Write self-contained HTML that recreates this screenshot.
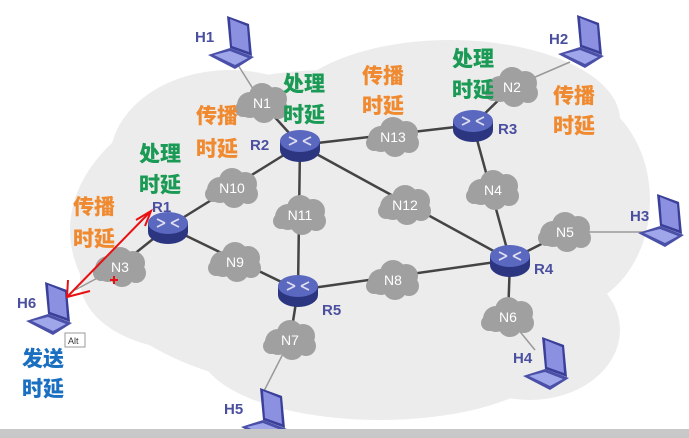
<!DOCTYPE html>
<html><head><meta charset="utf-8"><style>
html,body{margin:0;padding:0;background:#fff;}
svg{display:block;}
.lab{font-family:"Liberation Sans","Noto Sans CJK SC",sans-serif;font-weight:900;font-size:21px;}
.n{font-family:"Liberation Sans",sans-serif;font-size:14px;fill:#fff;text-anchor:middle;}
.r{font-family:"Liberation Sans",sans-serif;font-size:15px;font-weight:bold;fill:#4a4fa0;}
</style></head><body>
<svg width="689" height="438" viewBox="0 0 689 438" xmlns="http://www.w3.org/2000/svg">
<defs>
<g id="cl" fill="#a0a0a0"><circle cx="-12" cy="2" r="13"/><circle cx="0" cy="-7" r="13"/><circle cx="13" cy="-4" r="12"/><circle cx="16" cy="6" r="10"/><circle cx="2" cy="8" r="12"/><circle cx="-19" cy="6" r="8"/></g>
<g id="rt"><ellipse cx="0" cy="5" rx="20" ry="12" fill="#2b3580"/><rect x="-20" y="-4" width="40" height="9" fill="#2b3580"/><ellipse cx="0" cy="-4" rx="20" ry="11" fill="#5a68c0"/><path d="M-11 -8 L-3 -4 M11 -8 L3 -4 M-11 0 L-3 -4 M11 0 L3 -4" stroke="#dde" stroke-width="1.8"/></g>
<g id="lp"><polygon points="0,0 22,8 25,40 3,32" fill="#3a3f99"/><polygon points="3,3 20,10 22,36 5,30" fill="#8c90e0"/><polygon points="3,32 27,41 8,53 -19,39" fill="#4a50a8"/><polygon points="3,35 21,42 8,49 -13,39" fill="#a0a6ea"/></g>
</defs>
<rect width="689" height="438" fill="#fff"/>
<g fill="#ececec">
<ellipse cx="330" cy="230" rx="260" ry="160"/>
<ellipse cx="230" cy="160" rx="120" ry="90"/>
<ellipse cx="450" cy="120" rx="170" ry="80"/>
<ellipse cx="560" cy="200" rx="90" ry="110"/>
<ellipse cx="190" cy="280" rx="110" ry="70"/>
<ellipse cx="380" cy="350" rx="180" ry="70"/>
<ellipse cx="530" cy="330" rx="90" ry="70"/>
</g>
<g stroke="#444" stroke-width="2.5" fill="none">
<line x1="168" y1="227" x2="300" y2="145"/>
<line x1="168" y1="227" x2="298" y2="290"/>
<line x1="300" y1="145" x2="298" y2="290"/>
<line x1="300" y1="145" x2="510" y2="260"/>
<line x1="300" y1="145" x2="473" y2="125"/>
<line x1="473" y1="125" x2="510" y2="260"/>
<line x1="298" y1="290" x2="510" y2="260"/>
<line x1="510" y1="260" x2="565" y2="232"/>
<line x1="510" y1="260" x2="508" y2="317"/>
<line x1="298" y1="290" x2="290" y2="340"/>
<line x1="300" y1="145" x2="262" y2="103"/>
<line x1="473" y1="125" x2="512" y2="87"/>
<line x1="168" y1="227" x2="118" y2="267"/>
</g>
<g stroke="#999" stroke-width="1.5">
<line x1="262" y1="103" x2="238" y2="65"/>
<line x1="512" y1="87" x2="570" y2="62"/>
<line x1="565" y1="232" x2="645" y2="232"/>
<line x1="508" y1="317" x2="535" y2="350"/>
<line x1="290" y1="340" x2="262" y2="395"/>
<line x1="118" y1="267" x2="75" y2="290"/>
</g>
<use href="#cl" x="262" y="103"/><text class="n" x="262" y="108">N1</text>
<use href="#cl" x="393" y="137"/><text class="n" x="393" y="142">N13</text>
<use href="#cl" x="512" y="87"/><text class="n" x="512" y="92">N2</text>
<use href="#cl" x="232" y="188"/><text class="n" x="232" y="193">N10</text>
<use href="#cl" x="300" y="215"/><text class="n" x="300" y="220">N11</text>
<use href="#cl" x="405" y="205"/><text class="n" x="405" y="210">N12</text>
<use href="#cl" x="493" y="190"/><text class="n" x="493" y="195">N4</text>
<use href="#cl" x="565" y="232"/><text class="n" x="565" y="237">N5</text>
<use href="#cl" x="120" y="267"/><text class="n" x="120" y="272">N3</text>
<use href="#cl" x="235" y="262"/><text class="n" x="235" y="267">N9</text>
<use href="#cl" x="393" y="280"/><text class="n" x="393" y="285">N8</text>
<use href="#cl" x="508" y="317"/><text class="n" x="508" y="322">N6</text>
<use href="#cl" x="290" y="340"/><text class="n" x="290" y="345">N7</text>
<use href="#rt" x="168" y="227"/><text class="r" x="152" y="212">R1</text>
<use href="#rt" x="300" y="145"/><text class="r" x="250" y="150">R2</text>
<use href="#rt" x="473" y="125"/><text class="r" x="498" y="134">R3</text>
<use href="#rt" x="510" y="260"/><text class="r" x="534" y="274">R4</text>
<use href="#rt" x="298" y="290"/><text class="r" x="322" y="315">R5</text>
<use href="#lp" x="227" y="16"/><text class="r" x="195" y="42">H1</text>
<use href="#lp" x="577" y="15"/><text class="r" x="549" y="44">H2</text>
<use href="#lp" x="657" y="194"/><text class="r" x="630" y="221">H3</text>
<use href="#lp" x="542" y="337"/><text class="r" x="513" y="363">H4</text>
<use href="#lp" x="260" y="388"/><text class="r" x="224" y="414">H5</text>
<use href="#lp" x="45" y="282"/><text class="r" x="17" y="308">H6</text>
<g class="lab" fill="#f08a30">
<text x="196" y="123">传播</text><text x="196" y="156">时延</text>
<text x="362" y="83">传播</text><text x="362" y="113">时延</text>
<text x="553" y="103">传播</text><text x="553" y="133">时延</text>
<text x="73" y="214">传播</text><text x="73" y="246">时延</text>
</g>
<g class="lab" fill="#1a9a55">
<text x="283" y="91">处理</text><text x="283" y="122">时延</text>
<text x="139" y="161">处理</text><text x="139" y="192">时延</text>
<text x="452" y="66">处理</text><text x="452" y="97">时延</text>
</g>
<g class="lab" fill="#1a6fc0">
<text x="22" y="366">发送</text><text x="22" y="396">时延</text>
</g>
<g stroke="#e81010" stroke-width="2" fill="none">
<line x1="150" y1="212" x2="68" y2="296"/>
<path d="M136 220 L151 211 L145 226"/>
<path d="M68 280 L67 297 L90 291"/>
<path d="M110 280 L118 280 M114 276 L114 284"/>
</g>
<rect x="65" y="333" width="20" height="14" fill="#fff" stroke="#999" stroke-width="1"/>
<text x="68" y="344" font-family="Liberation Sans,sans-serif" font-size="9" fill="#333">Alt</text>
<rect x="0" y="429" width="689" height="9" fill="#c8c8c8"/>
</svg>
</body></html>
